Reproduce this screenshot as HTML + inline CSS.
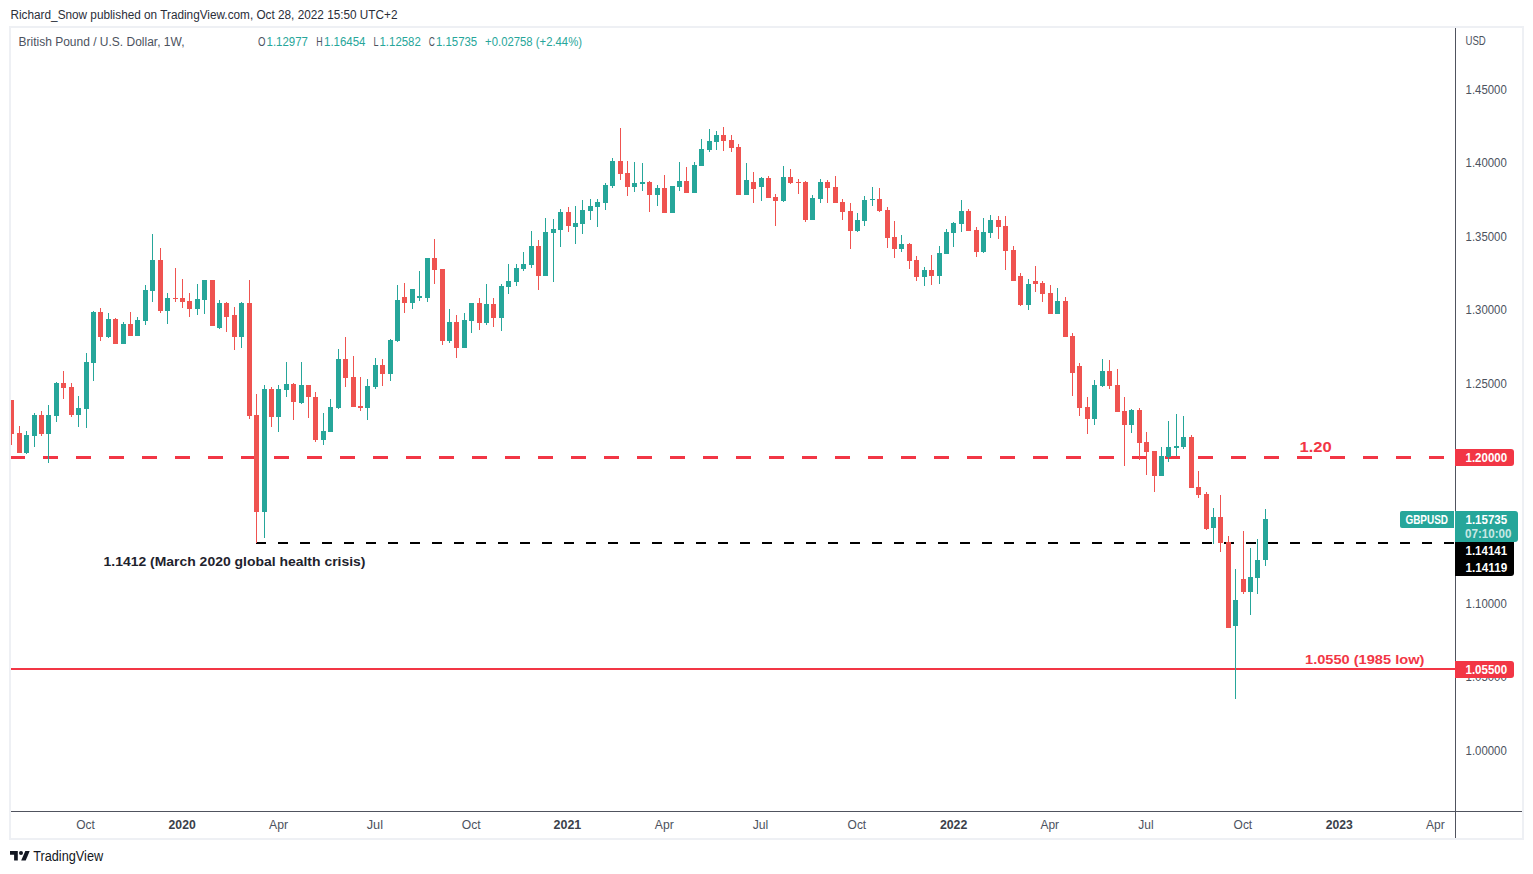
<!DOCTYPE html>
<html><head><meta charset="utf-8"><title>GBPUSD Weekly Chart</title>
<style>html,body{margin:0;padding:0;background:#fff;width:1533px;height:874px;overflow:hidden}svg{display:block}</style>
</head><body>
<svg width="1533" height="874" viewBox="0 0 1533 874" font-family="'Liberation Sans', Arial, sans-serif">
<defs><clipPath id="pane"><rect x="11" y="28" width="1444" height="783"/></clipPath></defs>
<rect width="1533" height="874" fill="#fff"/>
<text x="10.5" y="19" font-size="12.5" fill="#2a2e39" font-weight="normal" text-anchor="start" textLength="387" lengthAdjust="spacingAndGlyphs">Richard_Snow published on TradingView.com, Oct 28, 2022 15:50 UTC+2</text>
<rect x="9" y="26" width="1515" height="14" fill="none"/>
<g shape-rendering="crispEdges">
<g clip-path="url(#pane)">
<rect x="10" y="456" width="15" height="3" fill="#f23645"/>
<rect x="43" y="456" width="15" height="3" fill="#f23645"/>
<rect x="76" y="456" width="15" height="3" fill="#f23645"/>
<rect x="109" y="456" width="15" height="3" fill="#f23645"/>
<rect x="142" y="456" width="15" height="3" fill="#f23645"/>
<rect x="175" y="456" width="15" height="3" fill="#f23645"/>
<rect x="208" y="456" width="15" height="3" fill="#f23645"/>
<rect x="241" y="456" width="15" height="3" fill="#f23645"/>
<rect x="274" y="456" width="15" height="3" fill="#f23645"/>
<rect x="307" y="456" width="15" height="3" fill="#f23645"/>
<rect x="340" y="456" width="15" height="3" fill="#f23645"/>
<rect x="373" y="456" width="15" height="3" fill="#f23645"/>
<rect x="406" y="456" width="15" height="3" fill="#f23645"/>
<rect x="439" y="456" width="15" height="3" fill="#f23645"/>
<rect x="472" y="456" width="15" height="3" fill="#f23645"/>
<rect x="505" y="456" width="15" height="3" fill="#f23645"/>
<rect x="538" y="456" width="15" height="3" fill="#f23645"/>
<rect x="571" y="456" width="15" height="3" fill="#f23645"/>
<rect x="604" y="456" width="15" height="3" fill="#f23645"/>
<rect x="637" y="456" width="15" height="3" fill="#f23645"/>
<rect x="670" y="456" width="15" height="3" fill="#f23645"/>
<rect x="703" y="456" width="15" height="3" fill="#f23645"/>
<rect x="736" y="456" width="15" height="3" fill="#f23645"/>
<rect x="769" y="456" width="15" height="3" fill="#f23645"/>
<rect x="802" y="456" width="15" height="3" fill="#f23645"/>
<rect x="835" y="456" width="15" height="3" fill="#f23645"/>
<rect x="868" y="456" width="15" height="3" fill="#f23645"/>
<rect x="901" y="456" width="15" height="3" fill="#f23645"/>
<rect x="934" y="456" width="15" height="3" fill="#f23645"/>
<rect x="967" y="456" width="15" height="3" fill="#f23645"/>
<rect x="1000" y="456" width="15" height="3" fill="#f23645"/>
<rect x="1033" y="456" width="15" height="3" fill="#f23645"/>
<rect x="1066" y="456" width="15" height="3" fill="#f23645"/>
<rect x="1099" y="456" width="15" height="3" fill="#f23645"/>
<rect x="1132" y="456" width="15" height="3" fill="#f23645"/>
<rect x="1165" y="456" width="15" height="3" fill="#f23645"/>
<rect x="1198" y="456" width="15" height="3" fill="#f23645"/>
<rect x="1231" y="456" width="15" height="3" fill="#f23645"/>
<rect x="1264" y="456" width="15" height="3" fill="#f23645"/>
<rect x="1297" y="456" width="15" height="3" fill="#f23645"/>
<rect x="1330" y="456" width="15" height="3" fill="#f23645"/>
<rect x="1363" y="456" width="15" height="3" fill="#f23645"/>
<rect x="1396" y="456" width="15" height="3" fill="#f23645"/>
<rect x="1429" y="456" width="15" height="3" fill="#f23645"/>
<rect x="256" y="542" width="10" height="2" fill="#000"/>
<rect x="278" y="542" width="10" height="2" fill="#000"/>
<rect x="300" y="542" width="10" height="2" fill="#000"/>
<rect x="322" y="542" width="10" height="2" fill="#000"/>
<rect x="344" y="542" width="10" height="2" fill="#000"/>
<rect x="366" y="542" width="10" height="2" fill="#000"/>
<rect x="388" y="542" width="10" height="2" fill="#000"/>
<rect x="410" y="542" width="10" height="2" fill="#000"/>
<rect x="432" y="542" width="10" height="2" fill="#000"/>
<rect x="454" y="542" width="10" height="2" fill="#000"/>
<rect x="476" y="542" width="10" height="2" fill="#000"/>
<rect x="498" y="542" width="10" height="2" fill="#000"/>
<rect x="520" y="542" width="10" height="2" fill="#000"/>
<rect x="542" y="542" width="10" height="2" fill="#000"/>
<rect x="564" y="542" width="10" height="2" fill="#000"/>
<rect x="586" y="542" width="10" height="2" fill="#000"/>
<rect x="608" y="542" width="10" height="2" fill="#000"/>
<rect x="630" y="542" width="10" height="2" fill="#000"/>
<rect x="652" y="542" width="10" height="2" fill="#000"/>
<rect x="674" y="542" width="10" height="2" fill="#000"/>
<rect x="696" y="542" width="10" height="2" fill="#000"/>
<rect x="718" y="542" width="10" height="2" fill="#000"/>
<rect x="740" y="542" width="10" height="2" fill="#000"/>
<rect x="762" y="542" width="10" height="2" fill="#000"/>
<rect x="784" y="542" width="10" height="2" fill="#000"/>
<rect x="806" y="542" width="10" height="2" fill="#000"/>
<rect x="828" y="542" width="10" height="2" fill="#000"/>
<rect x="850" y="542" width="10" height="2" fill="#000"/>
<rect x="872" y="542" width="10" height="2" fill="#000"/>
<rect x="894" y="542" width="10" height="2" fill="#000"/>
<rect x="916" y="542" width="10" height="2" fill="#000"/>
<rect x="938" y="542" width="10" height="2" fill="#000"/>
<rect x="960" y="542" width="10" height="2" fill="#000"/>
<rect x="982" y="542" width="10" height="2" fill="#000"/>
<rect x="1004" y="542" width="10" height="2" fill="#000"/>
<rect x="1026" y="542" width="10" height="2" fill="#000"/>
<rect x="1048" y="542" width="10" height="2" fill="#000"/>
<rect x="1070" y="542" width="10" height="2" fill="#000"/>
<rect x="1092" y="542" width="10" height="2" fill="#000"/>
<rect x="1114" y="542" width="10" height="2" fill="#000"/>
<rect x="1136" y="542" width="10" height="2" fill="#000"/>
<rect x="1158" y="542" width="10" height="2" fill="#000"/>
<rect x="1180" y="542" width="10" height="2" fill="#000"/>
<rect x="1202" y="542" width="10" height="2" fill="#000"/>
<rect x="1224" y="542" width="10" height="2" fill="#000"/>
<rect x="1246" y="542" width="10" height="2" fill="#000"/>
<rect x="1268" y="542" width="10" height="2" fill="#000"/>
<rect x="1290" y="542" width="10" height="2" fill="#000"/>
<rect x="1312" y="542" width="10" height="2" fill="#000"/>
<rect x="1334" y="542" width="10" height="2" fill="#000"/>
<rect x="1356" y="542" width="10" height="2" fill="#000"/>
<rect x="1378" y="542" width="10" height="2" fill="#000"/>
<rect x="1400" y="542" width="10" height="2" fill="#000"/>
<rect x="1422" y="542" width="10" height="2" fill="#000"/>
<rect x="1444" y="542" width="10" height="2" fill="#000"/>
<rect x="10" y="668" width="1445" height="2" fill="#f23645"/>
<rect x="11" y="400" width="1" height="45" fill="#ef5350"/>
<rect x="9" y="400" width="5" height="34" fill="#ef5350"/>
<rect x="19" y="426" width="1" height="27" fill="#ef5350"/>
<rect x="17" y="433" width="5" height="20" fill="#ef5350"/>
<rect x="26" y="431" width="1" height="23" fill="#26a69a"/>
<rect x="24" y="435" width="5" height="18" fill="#26a69a"/>
<rect x="34" y="413" width="1" height="34" fill="#26a69a"/>
<rect x="32" y="415" width="5" height="21" fill="#26a69a"/>
<rect x="41" y="411" width="1" height="25" fill="#ef5350"/>
<rect x="39" y="415" width="5" height="19" fill="#ef5350"/>
<rect x="48" y="405" width="1" height="58" fill="#26a69a"/>
<rect x="46" y="415" width="5" height="19" fill="#26a69a"/>
<rect x="56" y="382" width="1" height="40" fill="#26a69a"/>
<rect x="54" y="383" width="5" height="33" fill="#26a69a"/>
<rect x="63" y="371" width="1" height="28" fill="#ef5350"/>
<rect x="61" y="383" width="5" height="5" fill="#ef5350"/>
<rect x="71" y="383" width="1" height="34" fill="#ef5350"/>
<rect x="69" y="387" width="5" height="28" fill="#ef5350"/>
<rect x="78" y="396" width="1" height="31" fill="#26a69a"/>
<rect x="76" y="408" width="5" height="7" fill="#26a69a"/>
<rect x="86" y="353" width="1" height="75" fill="#26a69a"/>
<rect x="84" y="362" width="5" height="47" fill="#26a69a"/>
<rect x="93" y="311" width="1" height="70" fill="#26a69a"/>
<rect x="91" y="312" width="5" height="51" fill="#26a69a"/>
<rect x="100" y="308" width="1" height="33" fill="#ef5350"/>
<rect x="98" y="312" width="5" height="25" fill="#ef5350"/>
<rect x="108" y="313" width="1" height="25" fill="#26a69a"/>
<rect x="106" y="319" width="5" height="18" fill="#26a69a"/>
<rect x="115" y="318" width="1" height="26" fill="#ef5350"/>
<rect x="113" y="319" width="5" height="25" fill="#ef5350"/>
<rect x="123" y="322" width="1" height="22" fill="#26a69a"/>
<rect x="121" y="324" width="5" height="20" fill="#26a69a"/>
<rect x="130" y="312" width="1" height="24" fill="#ef5350"/>
<rect x="128" y="324" width="5" height="12" fill="#ef5350"/>
<rect x="137" y="317" width="1" height="19" fill="#26a69a"/>
<rect x="135" y="320" width="5" height="16" fill="#26a69a"/>
<rect x="145" y="285" width="1" height="40" fill="#26a69a"/>
<rect x="143" y="290" width="5" height="31" fill="#26a69a"/>
<rect x="152" y="234" width="1" height="68" fill="#26a69a"/>
<rect x="150" y="260" width="5" height="31" fill="#26a69a"/>
<rect x="160" y="248" width="1" height="65" fill="#ef5350"/>
<rect x="158" y="260" width="5" height="51" fill="#ef5350"/>
<rect x="167" y="293" width="1" height="31" fill="#26a69a"/>
<rect x="165" y="298" width="5" height="13" fill="#26a69a"/>
<rect x="175" y="268" width="1" height="34" fill="#ef5350"/>
<rect x="173" y="298" width="5" height="1" fill="#ef5350"/>
<rect x="182" y="279" width="1" height="29" fill="#ef5350"/>
<rect x="180" y="298" width="5" height="4" fill="#ef5350"/>
<rect x="189" y="293" width="1" height="24" fill="#ef5350"/>
<rect x="187" y="301" width="5" height="8" fill="#ef5350"/>
<rect x="197" y="284" width="1" height="31" fill="#26a69a"/>
<rect x="195" y="299" width="5" height="10" fill="#26a69a"/>
<rect x="204" y="280" width="1" height="34" fill="#26a69a"/>
<rect x="202" y="280" width="5" height="20" fill="#26a69a"/>
<rect x="212" y="280" width="1" height="46" fill="#ef5350"/>
<rect x="210" y="280" width="5" height="46" fill="#ef5350"/>
<rect x="219" y="300" width="1" height="29" fill="#26a69a"/>
<rect x="217" y="303" width="5" height="25" fill="#26a69a"/>
<rect x="226" y="302" width="1" height="30" fill="#ef5350"/>
<rect x="224" y="303" width="5" height="14" fill="#ef5350"/>
<rect x="234" y="307" width="1" height="43" fill="#ef5350"/>
<rect x="232" y="315" width="5" height="22" fill="#ef5350"/>
<rect x="241" y="302" width="1" height="46" fill="#26a69a"/>
<rect x="239" y="303" width="5" height="34" fill="#26a69a"/>
<rect x="249" y="280" width="1" height="139" fill="#ef5350"/>
<rect x="247" y="303" width="5" height="113" fill="#ef5350"/>
<rect x="256" y="394" width="1" height="149" fill="#ef5350"/>
<rect x="254" y="415" width="5" height="97" fill="#ef5350"/>
<rect x="264" y="385" width="1" height="153" fill="#26a69a"/>
<rect x="262" y="389" width="5" height="123" fill="#26a69a"/>
<rect x="271" y="387" width="1" height="40" fill="#ef5350"/>
<rect x="269" y="389" width="5" height="28" fill="#ef5350"/>
<rect x="278" y="385" width="1" height="47" fill="#26a69a"/>
<rect x="276" y="389" width="5" height="28" fill="#26a69a"/>
<rect x="286" y="362" width="1" height="35" fill="#26a69a"/>
<rect x="284" y="384" width="5" height="6" fill="#26a69a"/>
<rect x="293" y="383" width="1" height="37" fill="#ef5350"/>
<rect x="291" y="384" width="5" height="18" fill="#ef5350"/>
<rect x="301" y="362" width="1" height="42" fill="#26a69a"/>
<rect x="299" y="385" width="5" height="18" fill="#26a69a"/>
<rect x="308" y="385" width="1" height="33" fill="#ef5350"/>
<rect x="306" y="385" width="5" height="12" fill="#ef5350"/>
<rect x="315" y="392" width="1" height="50" fill="#ef5350"/>
<rect x="313" y="397" width="5" height="43" fill="#ef5350"/>
<rect x="323" y="413" width="1" height="32" fill="#26a69a"/>
<rect x="321" y="431" width="5" height="9" fill="#26a69a"/>
<rect x="330" y="399" width="1" height="33" fill="#26a69a"/>
<rect x="328" y="407" width="5" height="25" fill="#26a69a"/>
<rect x="338" y="349" width="1" height="60" fill="#26a69a"/>
<rect x="336" y="359" width="5" height="49" fill="#26a69a"/>
<rect x="345" y="337" width="1" height="50" fill="#ef5350"/>
<rect x="343" y="359" width="5" height="19" fill="#ef5350"/>
<rect x="353" y="356" width="1" height="51" fill="#ef5350"/>
<rect x="351" y="377" width="5" height="30" fill="#ef5350"/>
<rect x="360" y="377" width="1" height="34" fill="#ef5350"/>
<rect x="358" y="406" width="5" height="2" fill="#ef5350"/>
<rect x="367" y="379" width="1" height="41" fill="#26a69a"/>
<rect x="365" y="386" width="5" height="22" fill="#26a69a"/>
<rect x="375" y="358" width="1" height="31" fill="#26a69a"/>
<rect x="373" y="365" width="5" height="22" fill="#26a69a"/>
<rect x="382" y="359" width="1" height="27" fill="#ef5350"/>
<rect x="380" y="365" width="5" height="9" fill="#ef5350"/>
<rect x="390" y="339" width="1" height="42" fill="#26a69a"/>
<rect x="388" y="340" width="5" height="34" fill="#26a69a"/>
<rect x="397" y="285" width="1" height="57" fill="#26a69a"/>
<rect x="395" y="300" width="5" height="41" fill="#26a69a"/>
<rect x="404" y="283" width="1" height="30" fill="#ef5350"/>
<rect x="402" y="297" width="5" height="6" fill="#ef5350"/>
<rect x="412" y="289" width="1" height="20" fill="#26a69a"/>
<rect x="410" y="289" width="5" height="14" fill="#26a69a"/>
<rect x="419" y="271" width="1" height="30" fill="#26a69a"/>
<rect x="417" y="296" width="5" height="2" fill="#26a69a"/>
<rect x="427" y="258" width="1" height="44" fill="#26a69a"/>
<rect x="425" y="258" width="5" height="40" fill="#26a69a"/>
<rect x="434" y="239" width="1" height="45" fill="#ef5350"/>
<rect x="432" y="258" width="5" height="12" fill="#ef5350"/>
<rect x="442" y="269" width="1" height="76" fill="#ef5350"/>
<rect x="440" y="269" width="5" height="72" fill="#ef5350"/>
<rect x="449" y="309" width="1" height="34" fill="#26a69a"/>
<rect x="447" y="322" width="5" height="19" fill="#26a69a"/>
<rect x="456" y="315" width="1" height="43" fill="#ef5350"/>
<rect x="454" y="322" width="5" height="26" fill="#ef5350"/>
<rect x="464" y="313" width="1" height="35" fill="#26a69a"/>
<rect x="462" y="320" width="5" height="28" fill="#26a69a"/>
<rect x="471" y="303" width="1" height="30" fill="#26a69a"/>
<rect x="469" y="303" width="5" height="18" fill="#26a69a"/>
<rect x="479" y="298" width="1" height="32" fill="#ef5350"/>
<rect x="477" y="303" width="5" height="20" fill="#ef5350"/>
<rect x="486" y="284" width="1" height="41" fill="#26a69a"/>
<rect x="484" y="304" width="5" height="19" fill="#26a69a"/>
<rect x="493" y="298" width="1" height="29" fill="#ef5350"/>
<rect x="491" y="304" width="5" height="14" fill="#ef5350"/>
<rect x="501" y="284" width="1" height="47" fill="#26a69a"/>
<rect x="499" y="286" width="5" height="32" fill="#26a69a"/>
<rect x="508" y="264" width="1" height="30" fill="#26a69a"/>
<rect x="506" y="281" width="5" height="6" fill="#26a69a"/>
<rect x="516" y="264" width="1" height="22" fill="#26a69a"/>
<rect x="514" y="268" width="5" height="14" fill="#26a69a"/>
<rect x="523" y="252" width="1" height="19" fill="#26a69a"/>
<rect x="521" y="264" width="5" height="5" fill="#26a69a"/>
<rect x="531" y="231" width="1" height="37" fill="#26a69a"/>
<rect x="529" y="246" width="5" height="19" fill="#26a69a"/>
<rect x="538" y="240" width="1" height="50" fill="#ef5350"/>
<rect x="536" y="246" width="5" height="30" fill="#ef5350"/>
<rect x="545" y="218" width="1" height="58" fill="#26a69a"/>
<rect x="543" y="232" width="5" height="44" fill="#26a69a"/>
<rect x="553" y="219" width="1" height="63" fill="#26a69a"/>
<rect x="551" y="229" width="5" height="4" fill="#26a69a"/>
<rect x="560" y="209" width="1" height="38" fill="#26a69a"/>
<rect x="558" y="212" width="5" height="18" fill="#26a69a"/>
<rect x="568" y="207" width="1" height="25" fill="#ef5350"/>
<rect x="566" y="212" width="5" height="14" fill="#ef5350"/>
<rect x="575" y="206" width="1" height="38" fill="#26a69a"/>
<rect x="573" y="223" width="5" height="4" fill="#26a69a"/>
<rect x="582" y="200" width="1" height="34" fill="#26a69a"/>
<rect x="580" y="210" width="5" height="14" fill="#26a69a"/>
<rect x="590" y="199" width="1" height="21" fill="#26a69a"/>
<rect x="588" y="206" width="5" height="5" fill="#26a69a"/>
<rect x="597" y="199" width="1" height="28" fill="#26a69a"/>
<rect x="595" y="202" width="5" height="5" fill="#26a69a"/>
<rect x="605" y="183" width="1" height="27" fill="#26a69a"/>
<rect x="603" y="185" width="5" height="18" fill="#26a69a"/>
<rect x="612" y="158" width="1" height="30" fill="#26a69a"/>
<rect x="610" y="161" width="5" height="25" fill="#26a69a"/>
<rect x="620" y="128" width="1" height="52" fill="#ef5350"/>
<rect x="618" y="161" width="5" height="13" fill="#ef5350"/>
<rect x="627" y="161" width="1" height="35" fill="#ef5350"/>
<rect x="625" y="173" width="5" height="14" fill="#ef5350"/>
<rect x="634" y="162" width="1" height="30" fill="#26a69a"/>
<rect x="632" y="183" width="5" height="4" fill="#26a69a"/>
<rect x="642" y="163" width="1" height="28" fill="#26a69a"/>
<rect x="640" y="182" width="5" height="2" fill="#26a69a"/>
<rect x="649" y="181" width="1" height="31" fill="#ef5350"/>
<rect x="647" y="182" width="5" height="13" fill="#ef5350"/>
<rect x="657" y="185" width="1" height="21" fill="#26a69a"/>
<rect x="655" y="188" width="5" height="7" fill="#26a69a"/>
<rect x="664" y="175" width="1" height="38" fill="#ef5350"/>
<rect x="662" y="188" width="5" height="25" fill="#ef5350"/>
<rect x="672" y="186" width="1" height="27" fill="#26a69a"/>
<rect x="670" y="186" width="5" height="27" fill="#26a69a"/>
<rect x="679" y="162" width="1" height="29" fill="#26a69a"/>
<rect x="677" y="181" width="5" height="6" fill="#26a69a"/>
<rect x="686" y="167" width="1" height="26" fill="#ef5350"/>
<rect x="684" y="181" width="5" height="12" fill="#ef5350"/>
<rect x="694" y="162" width="1" height="31" fill="#26a69a"/>
<rect x="692" y="165" width="5" height="28" fill="#26a69a"/>
<rect x="701" y="139" width="1" height="27" fill="#26a69a"/>
<rect x="699" y="149" width="5" height="17" fill="#26a69a"/>
<rect x="709" y="129" width="1" height="23" fill="#26a69a"/>
<rect x="707" y="141" width="5" height="9" fill="#26a69a"/>
<rect x="716" y="131" width="1" height="19" fill="#26a69a"/>
<rect x="714" y="135" width="5" height="7" fill="#26a69a"/>
<rect x="723" y="127" width="1" height="24" fill="#ef5350"/>
<rect x="721" y="135" width="5" height="6" fill="#ef5350"/>
<rect x="731" y="135" width="1" height="17" fill="#ef5350"/>
<rect x="729" y="140" width="5" height="8" fill="#ef5350"/>
<rect x="738" y="144" width="1" height="51" fill="#ef5350"/>
<rect x="736" y="147" width="5" height="48" fill="#ef5350"/>
<rect x="746" y="163" width="1" height="32" fill="#26a69a"/>
<rect x="744" y="180" width="5" height="15" fill="#26a69a"/>
<rect x="753" y="172" width="1" height="31" fill="#ef5350"/>
<rect x="751" y="182" width="5" height="7" fill="#ef5350"/>
<rect x="761" y="177" width="1" height="24" fill="#26a69a"/>
<rect x="759" y="178" width="5" height="9" fill="#26a69a"/>
<rect x="768" y="176" width="1" height="22" fill="#ef5350"/>
<rect x="766" y="178" width="5" height="20" fill="#ef5350"/>
<rect x="775" y="194" width="1" height="32" fill="#ef5350"/>
<rect x="773" y="197" width="5" height="4" fill="#ef5350"/>
<rect x="783" y="166" width="1" height="36" fill="#26a69a"/>
<rect x="781" y="177" width="5" height="24" fill="#26a69a"/>
<rect x="790" y="169" width="1" height="15" fill="#ef5350"/>
<rect x="788" y="177" width="5" height="6" fill="#ef5350"/>
<rect x="798" y="179" width="1" height="15" fill="#ef5350"/>
<rect x="796" y="182" width="5" height="1" fill="#ef5350"/>
<rect x="805" y="181" width="1" height="41" fill="#ef5350"/>
<rect x="803" y="182" width="5" height="38" fill="#ef5350"/>
<rect x="812" y="195" width="1" height="25" fill="#26a69a"/>
<rect x="810" y="198" width="5" height="22" fill="#26a69a"/>
<rect x="820" y="179" width="1" height="24" fill="#26a69a"/>
<rect x="818" y="182" width="5" height="17" fill="#26a69a"/>
<rect x="827" y="180" width="1" height="23" fill="#ef5350"/>
<rect x="825" y="182" width="5" height="6" fill="#ef5350"/>
<rect x="835" y="176" width="1" height="27" fill="#ef5350"/>
<rect x="833" y="187" width="5" height="16" fill="#ef5350"/>
<rect x="842" y="199" width="1" height="21" fill="#ef5350"/>
<rect x="840" y="202" width="5" height="10" fill="#ef5350"/>
<rect x="850" y="203" width="1" height="46" fill="#ef5350"/>
<rect x="848" y="211" width="5" height="20" fill="#ef5350"/>
<rect x="857" y="213" width="1" height="19" fill="#26a69a"/>
<rect x="855" y="220" width="5" height="11" fill="#26a69a"/>
<rect x="864" y="196" width="1" height="30" fill="#26a69a"/>
<rect x="862" y="200" width="5" height="21" fill="#26a69a"/>
<rect x="872" y="187" width="1" height="19" fill="#26a69a"/>
<rect x="870" y="199" width="5" height="1" fill="#26a69a"/>
<rect x="879" y="188" width="1" height="24" fill="#ef5350"/>
<rect x="877" y="199" width="5" height="12" fill="#ef5350"/>
<rect x="887" y="207" width="1" height="41" fill="#ef5350"/>
<rect x="885" y="210" width="5" height="28" fill="#ef5350"/>
<rect x="894" y="221" width="1" height="37" fill="#ef5350"/>
<rect x="892" y="237" width="5" height="12" fill="#ef5350"/>
<rect x="901" y="235" width="1" height="17" fill="#26a69a"/>
<rect x="899" y="244" width="5" height="5" fill="#26a69a"/>
<rect x="909" y="243" width="1" height="26" fill="#ef5350"/>
<rect x="907" y="244" width="5" height="17" fill="#ef5350"/>
<rect x="916" y="256" width="1" height="25" fill="#ef5350"/>
<rect x="914" y="260" width="5" height="17" fill="#ef5350"/>
<rect x="924" y="267" width="1" height="19" fill="#26a69a"/>
<rect x="922" y="270" width="5" height="7" fill="#26a69a"/>
<rect x="931" y="255" width="1" height="30" fill="#ef5350"/>
<rect x="929" y="270" width="5" height="6" fill="#ef5350"/>
<rect x="939" y="246" width="1" height="38" fill="#26a69a"/>
<rect x="937" y="253" width="5" height="23" fill="#26a69a"/>
<rect x="946" y="229" width="1" height="25" fill="#26a69a"/>
<rect x="944" y="232" width="5" height="22" fill="#26a69a"/>
<rect x="953" y="222" width="1" height="25" fill="#26a69a"/>
<rect x="951" y="223" width="5" height="10" fill="#26a69a"/>
<rect x="961" y="200" width="1" height="32" fill="#26a69a"/>
<rect x="959" y="211" width="5" height="13" fill="#26a69a"/>
<rect x="968" y="209" width="1" height="22" fill="#ef5350"/>
<rect x="966" y="211" width="5" height="20" fill="#ef5350"/>
<rect x="976" y="227" width="1" height="30" fill="#ef5350"/>
<rect x="974" y="230" width="5" height="22" fill="#ef5350"/>
<rect x="983" y="218" width="1" height="35" fill="#26a69a"/>
<rect x="981" y="232" width="5" height="20" fill="#26a69a"/>
<rect x="990" y="215" width="1" height="23" fill="#26a69a"/>
<rect x="988" y="220" width="5" height="13" fill="#26a69a"/>
<rect x="998" y="216" width="1" height="23" fill="#ef5350"/>
<rect x="996" y="220" width="5" height="7" fill="#ef5350"/>
<rect x="1005" y="216" width="1" height="54" fill="#ef5350"/>
<rect x="1003" y="226" width="5" height="25" fill="#ef5350"/>
<rect x="1013" y="246" width="1" height="35" fill="#ef5350"/>
<rect x="1011" y="250" width="5" height="31" fill="#ef5350"/>
<rect x="1020" y="273" width="1" height="33" fill="#ef5350"/>
<rect x="1018" y="276" width="5" height="29" fill="#ef5350"/>
<rect x="1028" y="279" width="1" height="31" fill="#26a69a"/>
<rect x="1026" y="284" width="5" height="21" fill="#26a69a"/>
<rect x="1035" y="266" width="1" height="26" fill="#ef5350"/>
<rect x="1033" y="281" width="5" height="3" fill="#ef5350"/>
<rect x="1042" y="281" width="1" height="21" fill="#ef5350"/>
<rect x="1040" y="283" width="5" height="11" fill="#ef5350"/>
<rect x="1050" y="285" width="1" height="29" fill="#ef5350"/>
<rect x="1048" y="293" width="5" height="21" fill="#ef5350"/>
<rect x="1057" y="288" width="1" height="26" fill="#26a69a"/>
<rect x="1055" y="301" width="5" height="13" fill="#26a69a"/>
<rect x="1065" y="297" width="1" height="40" fill="#ef5350"/>
<rect x="1063" y="301" width="5" height="36" fill="#ef5350"/>
<rect x="1072" y="333" width="1" height="63" fill="#ef5350"/>
<rect x="1070" y="336" width="5" height="37" fill="#ef5350"/>
<rect x="1079" y="363" width="1" height="53" fill="#ef5350"/>
<rect x="1077" y="366" width="5" height="42" fill="#ef5350"/>
<rect x="1087" y="397" width="1" height="37" fill="#ef5350"/>
<rect x="1085" y="407" width="5" height="12" fill="#ef5350"/>
<rect x="1094" y="380" width="1" height="45" fill="#26a69a"/>
<rect x="1092" y="385" width="5" height="34" fill="#26a69a"/>
<rect x="1102" y="359" width="1" height="28" fill="#26a69a"/>
<rect x="1100" y="371" width="5" height="15" fill="#26a69a"/>
<rect x="1109" y="360" width="1" height="29" fill="#ef5350"/>
<rect x="1107" y="371" width="5" height="15" fill="#ef5350"/>
<rect x="1117" y="369" width="1" height="43" fill="#ef5350"/>
<rect x="1115" y="385" width="5" height="27" fill="#ef5350"/>
<rect x="1124" y="397" width="1" height="69" fill="#ef5350"/>
<rect x="1122" y="411" width="5" height="14" fill="#ef5350"/>
<rect x="1131" y="409" width="1" height="24" fill="#26a69a"/>
<rect x="1129" y="410" width="5" height="15" fill="#26a69a"/>
<rect x="1139" y="408" width="1" height="52" fill="#ef5350"/>
<rect x="1137" y="410" width="5" height="33" fill="#ef5350"/>
<rect x="1146" y="432" width="1" height="43" fill="#ef5350"/>
<rect x="1144" y="442" width="5" height="10" fill="#ef5350"/>
<rect x="1154" y="451" width="1" height="41" fill="#ef5350"/>
<rect x="1152" y="451" width="5" height="25" fill="#ef5350"/>
<rect x="1161" y="447" width="1" height="29" fill="#26a69a"/>
<rect x="1159" y="456" width="5" height="20" fill="#26a69a"/>
<rect x="1168" y="421" width="1" height="41" fill="#26a69a"/>
<rect x="1166" y="447" width="5" height="10" fill="#26a69a"/>
<rect x="1176" y="414" width="1" height="42" fill="#26a69a"/>
<rect x="1174" y="446" width="5" height="2" fill="#26a69a"/>
<rect x="1183" y="416" width="1" height="33" fill="#26a69a"/>
<rect x="1181" y="437" width="5" height="10" fill="#26a69a"/>
<rect x="1191" y="435" width="1" height="53" fill="#ef5350"/>
<rect x="1189" y="437" width="5" height="51" fill="#ef5350"/>
<rect x="1198" y="471" width="1" height="27" fill="#ef5350"/>
<rect x="1196" y="487" width="5" height="8" fill="#ef5350"/>
<rect x="1206" y="492" width="1" height="38" fill="#ef5350"/>
<rect x="1204" y="494" width="5" height="35" fill="#ef5350"/>
<rect x="1213" y="508" width="1" height="36" fill="#26a69a"/>
<rect x="1211" y="517" width="5" height="11" fill="#26a69a"/>
<rect x="1220" y="495" width="1" height="57" fill="#ef5350"/>
<rect x="1218" y="517" width="5" height="26" fill="#ef5350"/>
<rect x="1228" y="536" width="1" height="92" fill="#ef5350"/>
<rect x="1226" y="542" width="5" height="86" fill="#ef5350"/>
<rect x="1235" y="569" width="1" height="130" fill="#26a69a"/>
<rect x="1233" y="600" width="5" height="26" fill="#26a69a"/>
<rect x="1243" y="531" width="1" height="63" fill="#ef5350"/>
<rect x="1241" y="579" width="5" height="13" fill="#ef5350"/>
<rect x="1250" y="548" width="1" height="67" fill="#26a69a"/>
<rect x="1248" y="577" width="5" height="15" fill="#26a69a"/>
<rect x="1257" y="539" width="1" height="55" fill="#26a69a"/>
<rect x="1255" y="560" width="5" height="18" fill="#26a69a"/>
<rect x="1265" y="509" width="1" height="57" fill="#26a69a"/>
<rect x="1263" y="519" width="5" height="41" fill="#26a69a"/>
</g>
<rect x="9" y="26" width="1515" height="2" fill="#eef0f4"/>
<rect x="9" y="838" width="1515" height="2" fill="#eef0f4"/>
<rect x="9" y="26" width="2" height="814" fill="#eef0f4"/>
<rect x="1522" y="26" width="2" height="814" fill="#eef0f4"/>
<rect x="11" y="811" width="1511" height="1" fill="#50535e"/>
<rect x="1455" y="28" width="1" height="810" fill="#50535e"/>
</g>
<text x="1299.5" y="452" font-size="14.5" fill="#f23645" font-weight="bold" text-anchor="start" textLength="32.3" lengthAdjust="spacingAndGlyphs">1.20</text>
<text x="103.5" y="565.5" font-size="13" fill="#1e222d" font-weight="bold" text-anchor="start" textLength="262" lengthAdjust="spacingAndGlyphs">1.1412 (March 2020 global health crisis)</text>
<text x="1305" y="664" font-size="13.5" fill="#f23645" font-weight="bold" text-anchor="start" textLength="119.4" lengthAdjust="spacingAndGlyphs">1.0550 (1985 low)</text>
<text x="18.5" y="46" font-size="12.5" fill="#4c525e" font-weight="normal" text-anchor="start" textLength="166" lengthAdjust="spacingAndGlyphs">British Pound / U.S. Dollar, 1W,</text>
<text x="258" y="46" font-size="12.5" fill="#4c525e" font-weight="normal" text-anchor="start" textLength="7.5" lengthAdjust="spacingAndGlyphs">O</text>
<text x="266.6" y="46" font-size="12.5" fill="#26a69a" font-weight="normal" text-anchor="start" textLength="41.3" lengthAdjust="spacingAndGlyphs">1.12977</text>
<text x="316.2" y="46" font-size="12.5" fill="#4c525e" font-weight="normal" text-anchor="start" textLength="6.4" lengthAdjust="spacingAndGlyphs">H</text>
<text x="324" y="46" font-size="12.5" fill="#26a69a" font-weight="normal" text-anchor="start" textLength="41.5" lengthAdjust="spacingAndGlyphs">1.16454</text>
<text x="373.6" y="46" font-size="12.5" fill="#4c525e" font-weight="normal" text-anchor="start" textLength="5" lengthAdjust="spacingAndGlyphs">L</text>
<text x="379.5" y="46" font-size="12.5" fill="#26a69a" font-weight="normal" text-anchor="start" textLength="41.3" lengthAdjust="spacingAndGlyphs">1.12582</text>
<text x="428.8" y="46" font-size="12.5" fill="#4c525e" font-weight="normal" text-anchor="start" textLength="6.1" lengthAdjust="spacingAndGlyphs">C</text>
<text x="436" y="46" font-size="12.5" fill="#26a69a" font-weight="normal" text-anchor="start" textLength="41.2" lengthAdjust="spacingAndGlyphs">1.15735</text>
<text x="485.1" y="46" font-size="12.5" fill="#26a69a" font-weight="normal" text-anchor="start" textLength="96.9" lengthAdjust="spacingAndGlyphs">+0.02758 (+2.44%)</text>
<text x="1465.5" y="45" font-size="12" fill="#4c525e" font-weight="normal" text-anchor="start" textLength="20.3" lengthAdjust="spacingAndGlyphs">USD</text>
<text x="1465.6" y="93.9" font-size="12" fill="#4c525e" font-weight="normal" text-anchor="start" textLength="41.2" lengthAdjust="spacingAndGlyphs">1.45000</text>
<text x="1465.6" y="167.3" font-size="12" fill="#4c525e" font-weight="normal" text-anchor="start" textLength="41.2" lengthAdjust="spacingAndGlyphs">1.40000</text>
<text x="1465.6" y="240.7" font-size="12" fill="#4c525e" font-weight="normal" text-anchor="start" textLength="41.2" lengthAdjust="spacingAndGlyphs">1.35000</text>
<text x="1465.6" y="314.2" font-size="12" fill="#4c525e" font-weight="normal" text-anchor="start" textLength="41.2" lengthAdjust="spacingAndGlyphs">1.30000</text>
<text x="1465.6" y="387.6" font-size="12" fill="#4c525e" font-weight="normal" text-anchor="start" textLength="41.2" lengthAdjust="spacingAndGlyphs">1.25000</text>
<text x="1465.6" y="607.8" font-size="12" fill="#4c525e" font-weight="normal" text-anchor="start" textLength="41.2" lengthAdjust="spacingAndGlyphs">1.10000</text>
<text x="1465.6" y="681.3" font-size="12" fill="#4c525e" font-weight="normal" text-anchor="start" textLength="41.2" lengthAdjust="spacingAndGlyphs">1.05000</text>
<text x="1465.6" y="754.7" font-size="12" fill="#4c525e" font-weight="normal" text-anchor="start" textLength="41.2" lengthAdjust="spacingAndGlyphs">1.00000</text>
<text x="76.3" y="829" font-size="12" fill="#4c525e" font-weight="normal" text-anchor="start" textLength="18.6" lengthAdjust="spacingAndGlyphs">Oct</text>
<text x="168.6" y="829" font-size="12" fill="#3b3f4a" font-weight="bold" text-anchor="start" textLength="27.1" lengthAdjust="spacingAndGlyphs">2020</text>
<text x="269.0" y="829" font-size="12" fill="#4c525e" font-weight="normal" text-anchor="start" textLength="19" lengthAdjust="spacingAndGlyphs">Apr</text>
<text x="366.7" y="829" font-size="12" fill="#4c525e" font-weight="normal" text-anchor="start" textLength="16.3" lengthAdjust="spacingAndGlyphs">Jul</text>
<text x="461.8" y="829" font-size="12" fill="#4c525e" font-weight="normal" text-anchor="start" textLength="18.9" lengthAdjust="spacingAndGlyphs">Oct</text>
<text x="553.6" y="829" font-size="12" fill="#3b3f4a" font-weight="bold" text-anchor="start" textLength="27.7" lengthAdjust="spacingAndGlyphs">2021</text>
<text x="654.8" y="829" font-size="12" fill="#4c525e" font-weight="normal" text-anchor="start" textLength="18.9" lengthAdjust="spacingAndGlyphs">Apr</text>
<text x="752.7" y="829" font-size="12" fill="#4c525e" font-weight="normal" text-anchor="start" textLength="15.6" lengthAdjust="spacingAndGlyphs">Jul</text>
<text x="847.6" y="829" font-size="12" fill="#4c525e" font-weight="normal" text-anchor="start" textLength="18.6" lengthAdjust="spacingAndGlyphs">Oct</text>
<text x="939.9" y="829" font-size="12" fill="#3b3f4a" font-weight="bold" text-anchor="start" textLength="27.4" lengthAdjust="spacingAndGlyphs">2022</text>
<text x="1040.5" y="829" font-size="12" fill="#4c525e" font-weight="normal" text-anchor="start" textLength="18.6" lengthAdjust="spacingAndGlyphs">Apr</text>
<text x="1138.3" y="829" font-size="12" fill="#4c525e" font-weight="normal" text-anchor="start" textLength="15.3" lengthAdjust="spacingAndGlyphs">Jul</text>
<text x="1233.6" y="829" font-size="12" fill="#4c525e" font-weight="normal" text-anchor="start" textLength="18.6" lengthAdjust="spacingAndGlyphs">Oct</text>
<text x="1325.7" y="829" font-size="12" fill="#3b3f4a" font-weight="bold" text-anchor="start" textLength="27.1" lengthAdjust="spacingAndGlyphs">2023</text>
<text x="1426.1" y="829" font-size="12" fill="#4c525e" font-weight="normal" text-anchor="start" textLength="18.7" lengthAdjust="spacingAndGlyphs">Apr</text>
<path d="M1455 449h56a3 3 0 0 1 3 3v11a3 3 0 0 1 -3 3h-56z" fill="#f23645"/>
<text x="1465.5" y="462" font-size="12.5" fill="#fff" font-weight="bold" text-anchor="start" textLength="41.7" lengthAdjust="spacingAndGlyphs">1.20000</text>
<path d="M1454 511V528H1402a2 2 0 0 1 -2 -2V513a2 2 0 0 1 2 -2z" fill="#26a69a"/>
<text x="1405.4" y="524" font-size="12" fill="#fff" font-weight="bold" text-anchor="start" textLength="42.6" lengthAdjust="spacingAndGlyphs">GBPUSD</text>
<path d="M1455 511h60a3 3 0 0 1 3 3v25a3 3 0 0 1 -3 3h-60z" fill="#26a69a"/>
<text x="1465.5" y="524" font-size="12.5" fill="#fff" font-weight="bold" text-anchor="start" textLength="41.7" lengthAdjust="spacingAndGlyphs">1.15735</text>
<text x="1465" y="538" font-size="12.5" fill="rgba(255,255,255,0.75)" font-weight="bold" text-anchor="start" textLength="46.5" lengthAdjust="spacingAndGlyphs">07:10:00</text>
<path d="M1455 542H1514V573a3 3 0 0 1 -3 3H1455z" fill="#000"/>
<text x="1465.5" y="555" font-size="12.5" fill="#fff" font-weight="bold" text-anchor="start" textLength="41.7" lengthAdjust="spacingAndGlyphs">1.14141</text>
<text x="1465.5" y="571.5" font-size="12.5" fill="#fff" font-weight="bold" text-anchor="start" textLength="41.7" lengthAdjust="spacingAndGlyphs">1.14119</text>
<path d="M1455 661h56a3 3 0 0 1 3 3v11a3 3 0 0 1 -3 3h-56z" fill="#f23645"/>
<text x="1465.5" y="674" font-size="12.5" fill="#fff" font-weight="bold" text-anchor="start" textLength="41.7" lengthAdjust="spacingAndGlyphs">1.05500</text>
<path d="M10 851.1H17.8V860.6H14.1V854.7H10Z" fill="#131722"/>
<circle cx="21" cy="853.1" r="2" fill="#131722"/>
<path d="M25.3 851.1H29.7L25.7 860.6H21.2Z" fill="#131722"/>
<text x="33.2" y="861" font-size="14" fill="#131722" font-weight="normal" text-anchor="start" textLength="70" lengthAdjust="spacingAndGlyphs">TradingView</text>
</svg>
</body></html>
